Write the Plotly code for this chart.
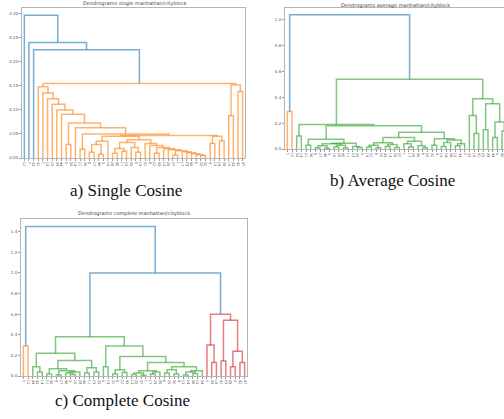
import plotly.graph_objects as go

# ---------------- data ----------------
# Each dendrogram is given by its leaf order and the merge height between
# every pair of neighbouring leaves (the cophenetic distance of adjacent leaves).
single_gaps = [0.297, 0.240, 0.225, 0.148, 0.135, 0.123, 0.112, 0.100, 0.091, 0.028,
               0.073, 0.063, 0.018, 0.050, 0.012, 0.028, 0.008, 0.035, 0.045, 0.010,
               0.020, 0.014, 0.032, 0.022, 0.012, 0.038, 0.030, 0.026, 0.010, 0.022,
               0.019, 0.017, 0.006, 0.015, 0.013, 0.011, 0.009, 0.007, 0.005, 0.047,
               0.030, 0.045, 0.036, 0.155, 0.088, 0.152, 0.138]
average_gaps = [0.29, 1.04, 0.10, 0.19, 0.03, 0.075, 0.010, 0.025, 0.005, 0.040,
                0.015, 0.030, 0.008, 0.045, 0.020, 0.012, 0.18, 0.015, 0.030, 0.010,
                0.048, 0.020, 0.035, 0.012, 0.09, 0.040, 0.015, 0.060, 0.025, 0.010,
                0.13, 0.030, 0.080, 0.020, 0.050, 0.070, 0.025, 0.040, 0.54, 0.26,
                0.12, 0.39, 0.15, 0.35, 0.09, 0.21, 0.14]
complete_gaps = [0.29, 1.45, 0.09, 0.04, 0.22, 0.02, 0.07, 0.01, 0.05, 0.03,
                 0.015, 0.04, 0.15, 0.03, 0.08, 0.04, 0.38, 0.09, 0.29, 0.02,
                 0.06, 0.035, 0.19, 0.015, 0.03, 0.008, 0.05, 0.02, 0.04, 0.13,
                 0.03, 0.06, 0.02, 0.09, 0.01, 0.04, 0.025, 0.05, 1.00, 0.30,
                 0.13, 0.60, 0.145, 0.54, 0.09, 0.24, 0.13]

# colour threshold of each dendrogram (links at or above it are drawn blue)
single_threshold = 0.20
average_threshold = 0.70
complete_threshold = 0.90

single_labels = [12, 7, 33, 41, 2, 18, 25, 39, 44, 5, 30, 14, 21, 36, 9, 27, 46, 3, 16, 28,
                 40, 11, 23, 35, 0, 19, 31, 8, 22, 43, 13, 26, 37, 1, 17, 29, 45, 6, 20, 32,
                 4, 15, 24, 38, 10, 34, 42, 47]
average_labels = [7, 12, 30, 14, 21, 36, 9, 27, 46, 3, 16, 28, 40, 11, 23, 35, 0, 19, 31, 8,
                  22, 43, 13, 26, 37, 1, 17, 29, 45, 6, 20, 32, 4, 15, 24, 38, 10, 34, 2, 33,
                  18, 41, 25, 39, 44, 5, 42, 47]
complete_labels = [7, 12, 44, 30, 14, 21, 36, 9, 27, 46, 3, 16, 28, 40, 11, 23, 35, 0, 19, 31,
                   8, 22, 43, 13, 26, 37, 1, 17, 29, 45, 6, 20, 32, 4, 15, 24, 38, 10, 34, 2,
                   33, 18, 41, 25, 39, 5, 42, 47]

single_yticks = [0.00, 0.05, 0.10, 0.15, 0.20, 0.25, 0.30]
average_yticks = [0.0, 0.2, 0.4, 0.6, 0.8, 1.0]
complete_yticks = [0.0, 0.2, 0.4, 0.6, 0.8, 1.0, 1.2, 1.4]

titles = ["Dendrograms single manhattan/cityblock",
          "Dendrograms average manhattan/cityblock",
          "Dendrograms complete manhattan/cityblock"]
captions = ["a) Single Cosine", "b) Average Cosine", "c) Complete Cosine"]

# ---------------- styles ----------------
PALETTE = ["rgba(255,127,14,0.6)", "rgba(44,160,44,0.6)", "rgba(214,39,40,0.6)"]
ABOVE = "rgba(31,119,180,0.6)"
W, H = 504, 419


def build(lo, hi, gaps, thr, state, segs, color=None):
    if lo == hi:
        return 5 + 10 * lo, 0.0
    k = max(range(lo, hi), key=lambda i: gaps[i])
    h = gaps[k]
    if color is None and h < thr:
        color = PALETTE[state[0] % len(PALETTE)]
        state[0] += 1
    c = color if color is not None else ABOVE
    xl, hl = build(lo, k, gaps, thr, state, segs, color)
    xr, hr = build(k + 1, hi, gaps, thr, state, segs, color)
    segs.setdefault(c, []).append(((xl, xl, xr, xr), (hl, h, h, hr)))
    return (xl + xr) / 2, h


panels = [
    dict(gaps=single_gaps, thr=single_threshold, labels=single_labels,
         yticks=single_yticks, fmt=".2f",
         px=(22, 245), py=(8, 158), xcut=1.0, title_xy=(135, 4), cap_xy=(126, 190)),
    dict(gaps=average_gaps, thr=average_threshold, labels=average_labels,
         yticks=average_yticks, fmt=".1f",
         px=(285, 504), py=(8, 149), xcut=219 / 224, title_xy=(395, 5), cap_xy=(392, 180)),
    dict(gaps=complete_gaps, thr=complete_threshold, labels=complete_labels,
         yticks=complete_yticks, fmt=".1f",
         px=(21, 247), py=(219, 376), xcut=1.0, title_xy=(134, 213), cap_xy=(122, 400)),
]

fig = go.Figure()
annotations = []
for idx, p in enumerate(panels, start=1):
    gaps = p["gaps"]
    n = len(gaps) + 1
    segs = {}
    build(0, n - 1, gaps, p["thr"], [0], segs)
    xs_name = "x" if idx == 1 else f"x{idx}"
    ys_name = "y" if idx == 1 else f"y{idx}"
    for col, lst in segs.items():
        xs, ys = [], []
        for sx, sy in lst:
            xs += list(sx) + [None]
            ys += list(sy) + [None]
        fig.add_trace(go.Scatter(x=xs, y=ys, mode="lines", xaxis=xs_name, yaxis=ys_name,
                                 line=dict(color=col, width=1.5), hoverinfo="skip",
                                 showlegend=False))
    top = 1.05 * max(gaps)
    xk = "xaxis" if idx == 1 else f"xaxis{idx}"
    yk = "yaxis" if idx == 1 else f"yaxis{idx}"
    fig.update_layout({
        xk: dict(domain=[p["px"][0] / W, p["px"][1] / W], range=[0, 10 * n * p["xcut"]],
                 anchor=ys_name, tickmode="array",
                 tickvals=[5 + 10 * i for i in range(n)],
                 ticktext=[str(v) for v in p["labels"]], tickangle=90,
                 tickfont=dict(size=3.5, color="#555", family="DejaVu Sans"),
                 showline=True, mirror=True, linecolor="#b5b5b5", linewidth=1,
                 ticks="outside", ticklen=2, tickcolor="#999", showgrid=False,
                 zeroline=False, automargin=False, fixedrange=True),
        yk: dict(domain=[1 - p["py"][1] / H, 1 - p["py"][0] / H], range=[0, top],
                 anchor=xs_name, tickmode="array", tickvals=p["yticks"],
                 tickformat=p["fmt"],
                 tickfont=dict(size=4, color="#555", family="DejaVu Sans"),
                 showline=True, mirror=(idx != 2), linecolor="#b5b5b5", linewidth=1,
                 ticks="outside", ticklen=2, tickcolor="#999", showgrid=False,
                 zeroline=False, automargin=False, fixedrange=True),
    })
    annotations.append(dict(text=titles[idx - 1], x=p["title_xy"][0] / W,
                            y=1 - p["title_xy"][1] / H, xref="paper", yref="paper",
                            showarrow=False, xanchor="center", yanchor="middle",
                            font=dict(size=5, color="#444", family="DejaVu Sans")))
    annotations.append(dict(text=captions[idx - 1], x=p["cap_xy"][0] / W,
                            y=1 - p["cap_xy"][1] / H, xref="paper", yref="paper",
                            showarrow=False, xanchor="center", yanchor="middle",
                            font=dict(size=17, color="#111", family="Liberation Serif")))

fig.update_layout(width=W, height=H, margin=dict(l=0, r=0, t=0, b=0),
                  paper_bgcolor="white", plot_bgcolor="white",
                  annotations=annotations, showlegend=False)
fig.write_html("out.html", config={"displayModeBar": False},
               post_script="document.body.style.margin='0px';"
                           "document.body.style.overflow='hidden';")
